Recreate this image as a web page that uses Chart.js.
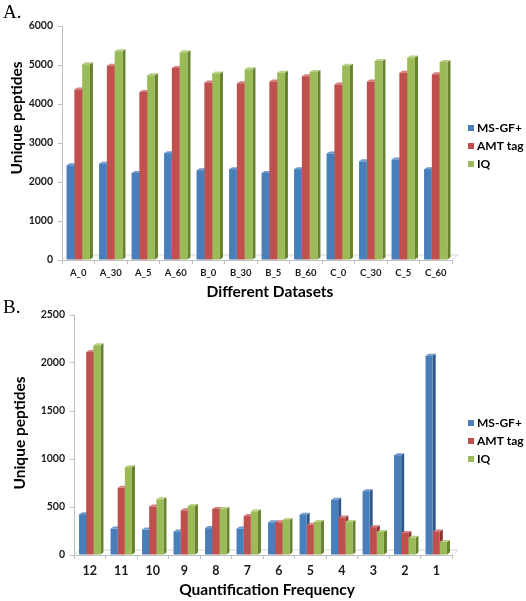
<!DOCTYPE html>
<html>
<head>
<meta charset="utf-8">
<script src="https://cdn.jsdelivr.net/npm/chart.js@4"></script>
<style>
  body { margin: 0; background: #fff; }
  #wrap { position: relative; width: 526px; height: 601px; overflow: hidden; }
  canvas { position: absolute; left: 0; }
  .panel { position: absolute; left: 3px; font-family: "Liberation Serif", serif; font-size: 19px; color: #000; line-height: 1; }
</style>
</head>
<body>
<div id="wrap">
  <canvas id="chartA" width="526" height="300" style="top:0"></canvas>
  <canvas id="chartB" width="526" height="301" style="top:300px"></canvas>
  <div class="panel" style="top:2px">A.</div>
  <div class="panel" style="top:297px">B.</div>
</div>
<script>
// ---- data ----
const datasetLabels = ['A_0', 'A_30', 'A_5', 'A_60', 'B_0', 'B_30', 'B_5', 'B_60', 'C_0', 'C_30', 'C_5', 'C_60'];
const msgfA = [2430, 2470, 2230, 2740, 2300, 2330, 2230, 2330, 2730, 2530, 2580, 2330];
const amtA  = [4370, 4980, 4310, 4920, 4550, 4530, 4580, 4710, 4500, 4580, 4800, 4760];
const iqA   = [5020, 5350, 4740, 5330, 4780, 4890, 4800, 4820, 4980, 5100, 5190, 5080];

const freqLabels = ['12', '11', '10', '9', '8', '7', '6', '5', '4', '3', '2', '1'];
const msgfB = [425, 275, 265, 245, 280, 275, 340, 420, 575, 665, 1040, 2075];
const amtB  = [2115, 700, 505, 465, 480, 405, 340, 315, 390, 290, 230, 245];
const iqB   = [2185, 915, 580, 510, 480, 455, 365, 345, 345, 240, 180, 135];

const seriesNames = ['MS-GF+', 'AMT tag', 'IQ'];
const ticksA = { max: 6000, step: 1000 };
const ticksB = { max: 2500, step: 500 };

// Excel-ish palette: front, side, top
const palette = [
    { front: '#4a7ebb', side: '#30578a', top: '#7398cc' },
    { front: '#c0504d', side: '#8a3331', top: '#d4807d' },
    { front: '#9bbb59', side: '#66822f', top: '#b9d185' }
];
const FONT = 'Lato, "Open Sans", sans-serif';
const DX = 3, DY = 2;

// fake 3D: side + top faces drawn behind the flat fronts
const bar3d = {
    id: 'bar3d',
    beforeDatasetsDraw(chart) {
        const ctx = chart.ctx;
        const a = chart.chartArea;
        ctx.save();
        // floor
        ctx.strokeStyle = '#d6d6d6';
        ctx.lineWidth = 1;
        ctx.beginPath();
        ctx.moveTo(a.left, a.bottom);
        ctx.lineTo(a.left + 6, a.bottom - 5);
        ctx.lineTo(a.right + 6, a.bottom - 5);
        ctx.lineTo(a.right, a.bottom);
        ctx.stroke();

        chart.data.datasets.forEach((ds, i) => {
            const meta = chart.getDatasetMeta(i);
            const c = palette[i];
            meta.data.forEach(bar => {
                const { x, y, base, width } = bar.getProps(['x', 'y', 'base', 'width'], true);
                const l = x - width / 2, r = x + width / 2;
                ctx.fillStyle = c.side;
                ctx.beginPath();
                ctx.moveTo(r, y);
                ctx.lineTo(r + DX, y - DY);
                ctx.lineTo(r + DX, base - DY);
                ctx.lineTo(r, base);
                ctx.closePath();
                ctx.fill();
                ctx.fillStyle = c.top;
                ctx.beginPath();
                ctx.moveTo(l, y);
                ctx.lineTo(l + DX, y - DY);
                ctx.lineTo(r + DX, y - DY);
                ctx.lineTo(r, y);
                ctx.closePath();
                ctx.fill();
            });
        });
        ctx.restore();
    }
};

// axis titles + legend at fixed spots
const decor = {
    id: 'decor',
    afterDraw(chart, args, opts) {
        const ctx = chart.ctx;
        ctx.save();
        ctx.fillStyle = '#000';
        ctx.font = 'bold 15.5px ' + FONT;
        ctx.textAlign = 'center';
        ctx.textBaseline = 'middle';
        ctx.fillText(opts.xTitle, opts.xTitlePos[0], opts.xTitlePos[1]);
        ctx.translate(opts.yTitlePos[0], opts.yTitlePos[1]);
        ctx.rotate(-Math.PI / 2);
        ctx.fillText(opts.yTitle, 0, 0);
        ctx.restore();

        ctx.save();
        ctx.font = 'bold 12px ' + FONT;
        ctx.textAlign = 'left';
        ctx.textBaseline = 'middle';
        chart.data.datasets.forEach((ds, i) => {
            const y = opts.legendY + i * 18;
            ctx.fillStyle = palette[i].front;
            ctx.fillRect(opts.legendX, y - 3, 6, 6);
            ctx.fillStyle = '#000';
            ctx.fillText(ds.label, opts.legendX + 9, y);
        });
        ctx.restore();
    }
};

function makeChart(id, labels, series, cfg) {
    const ctx = document.getElementById(id).getContext('2d');
    return new Chart(ctx, {
        type: 'bar',
        data: {
            labels: labels,
            datasets: series.map((vals, i) => ({
                label: seriesNames[i],
                data: vals,
                backgroundColor: palette[i].front,
                borderWidth: 0,
                barPercentage: 1,
                categoryPercentage: cfg.catPct
            }))
        },
        options: {
            responsive: false,
            animation: false,
            devicePixelRatio: 1,
            layout: { padding: { left: 0, right: cfg.padRight, top: cfg.padTop, bottom: 0 } },
            plugins: {
                legend: { display: false },
                tooltip: { enabled: false },
                decor: cfg.decor
            },
            scales: {
                x: {
                    afterFit: s => { s.height = cfg.xHeight; },
                    grid: { drawOnChartArea: false, drawTicks: true, tickLength: 4, color: '#bfbfbf' },
                    border: { color: '#bfbfbf' },
                    ticks: { color: '#1a1a1a', padding: cfg.xPad, font: { family: FONT, weight: 'bold', size: cfg.xFont } }
                },
                y: {
                    min: 0,
                    max: cfg.ticks.max,
                    afterFit: s => { s.width = cfg.yWidth; },
                    grid: { drawOnChartArea: false, drawTicks: true, tickLength: 4, color: '#bfbfbf' },
                    border: { color: '#bfbfbf' },
                    ticks: {
                        stepSize: cfg.ticks.step,
                        callback: v => String(v),
                        color: '#1a1a1a',
                        padding: 5,
                        font: { family: FONT, weight: 'bold', size: 10.5 }
                    }
                }
            }
        },
        plugins: [bar3d, decor]
    });
}

makeChart('chartA', datasetLabels, [msgfA, amtA, iqA], {
    catPct: 0.72, padRight: 74, padTop: 26, xHeight: 40, yWidth: 62, xPad: 3, xFont: 9.5, ticks: ticksA,
    decor: { xTitle: 'Different Datasets', xTitlePos: [270, 292], yTitle: 'Unique peptides', yTitlePos: [17, 118], legendX: 468, legendY: 128 }
});

makeChart('chartB', freqLabels, [msgfB, amtB, iqB], {
    catPct: 0.68, padRight: 74, padTop: 15, xHeight: 46, yWidth: 74, xPad: 4, xFont: 12.5, ticks: ticksB,
    decor: { xTitle: 'Quantification Frequency', xTitlePos: [267, 290], yTitle: 'Unique peptides', yTitlePos: [20, 133], legendX: 468, legendY: 123 }
});
</script>
</body>
</html>
